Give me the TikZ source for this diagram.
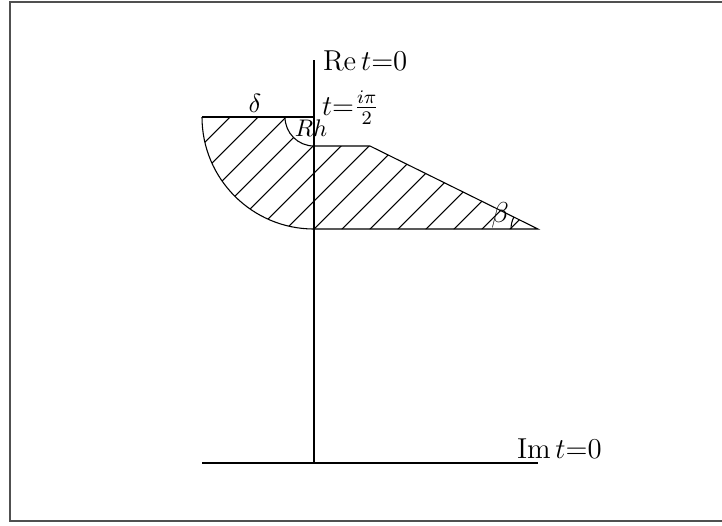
\documentclass[tikz,border=0pt]{standalone}
\begin{document}
\begin{tikzpicture}[x=0.41667pt,y=-0.41667pt,
  thinline/.style={line width=0.45pt},
  axisline/.style={line width=0.55pt},
  framebox/.style={line width=0.8pt,draw={rgb,255:red,80;green,80;blue,80}},
  lbl/.style={inner sep=0pt,outer sep=0pt,font=\fontsize{12}{14}\selectfont}]
\useasboundingbox (0,0) rectangle (722,525);
\draw[framebox] (10,2) rectangle (726,521);
% key points
\coordinate (A) at (202,117);
\coordinate (B) at (285,117);
\coordinate (O) at (314,117);
\coordinate (C) at (314,146);
\coordinate (D) at (370,146);
\coordinate (E) at (538,229);
\coordinate (F) at (314,229);
\coordinate (top) at (314,60);
\coordinate (bot) at (314,463);
\coordinate (L) at (202,463);
\coordinate (R) at (538,463);
% hatching
\begin{scope}
\clip (A) -- (B) arc[start angle=180,end angle=90,radius=29] -- (D) -- (E) -- (F) arc[start angle=90,end angle=180,radius=112] -- cycle;
\foreach \c in {347,375,...,739} \draw[thinline] (\c-100,100) -- (\c-250,250);
\end{scope}
% outlines
\draw[thinline] (A) -- (O);
\draw[thinline] (A) arc[start angle=180,end angle=90,radius=112];
\draw[thinline] (B) arc[start angle=180,end angle=90,radius=29];
\draw[thinline] (C) -- (D) -- (E) -- (F);
\draw[thinline] (E) ++(-27,0) arc[start angle=180,end angle=206.3,radius=27];
% axes
\draw[axisline] (top) -- (bot);
\draw[axisline] (L) -- (R);
% labels
\node[lbl,anchor=base west] (re) at (323,70) {$\mathrm{Re}\,t{=}0$};
\node[lbl,anchor=base west] (im) at (517,458) {$\mathrm{Im}\,t{=}0$};
\node[lbl,anchor=base west] (tip) at (322,115) {$t{=}\frac{i\pi}{2}$};
\node[lbl,anchor=base,font=\fontsize{11}{13}\selectfont] (delta) at (255,112) {$\delta$};
\node[lbl,anchor=base,font=\fontsize{10}{12}\selectfont] (rh) at (311,136) {$Rh$};
\node[lbl,anchor=base] (beta) at (500,222) {$\beta$};
\end{tikzpicture}
\end{document}
